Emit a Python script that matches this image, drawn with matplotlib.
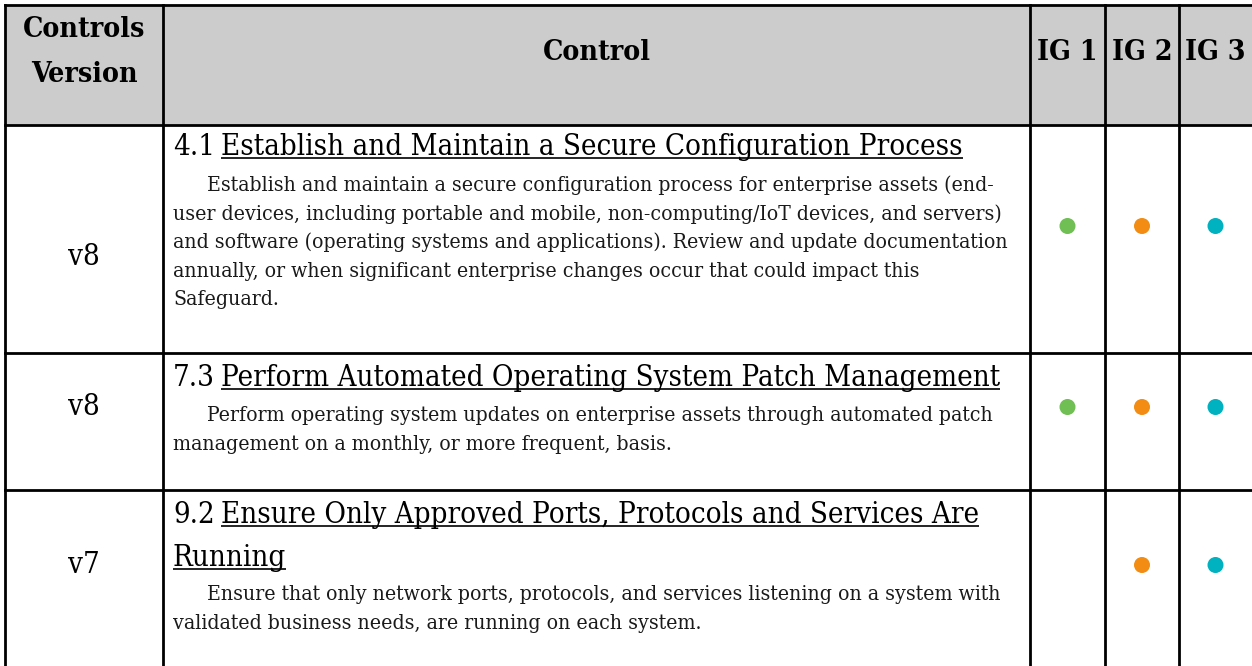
import matplotlib
matplotlib.use('Agg')
import matplotlib.pyplot as plt
from matplotlib.patches import Rectangle, Circle

# table content
versions = ['v8', 'v8', 'v7']
control_ids = ['4.1', '7.3', '9.2']
control_titles = [
    ['Establish and Maintain a Secure Configuration Process'],
    ['Perform Automated Operating System Patch Management'],
    ['Ensure Only Approved Ports, Protocols and Services Are', 'Running'],
]
descriptions = [
    ['Establish and maintain a secure configuration process for enterprise assets (end-',
     'user devices, including portable and mobile, non-computing/IoT devices, and servers)',
     'and software (operating systems and applications). Review and update documentation',
     'annually, or when significant enterprise changes occur that could impact this',
     'Safeguard.'],
    ['Perform operating system updates on enterprise assets through automated patch',
     'management on a monthly, or more frequent, basis.'],
    ['Ensure that only network ports, protocols, and services listening on a system with',
     'validated business needs, are running on each system.'],
]
ig1 = [True, True, False]
ig2 = [True, True, True]
ig3 = [True, True, True]
headers = ['Controls\nVersion', 'Control', 'IG 1', 'IG 2', 'IG 3']

# layout in pixels
W, H = 1252, 666
col_x = [5, 163, 1030, 1105, 1179, 1252]
row_y = [5, 125, 353, 490, 666]
title_y = [155, 386, 523]
title_gap = 43
body_y0 = [191, 421, 600]
line_h = 28.6
dot_y = [226, 407, 565]
ver_y = [257, 407, 565]
ig_colors = ['#70bf54', '#f28c12', '#00b2bf']
SERIF = 'DejaVu Serif'
STRETCH = 'condensed'

fig = plt.figure(figsize=(W / 100, H / 100), dpi=100)
ax = fig.add_axes([0, 0, 1, 1])
ax.set_xlim(0, W)
ax.set_ylim(H, 0)
ax.axis('off')
renderer = fig.canvas.get_renderer()


def put(x, y, s, fs, **kw):
    return ax.text(x, y, s, fontsize=fs, family=SERIF, stretch=STRETCH, **kw)


def fitted_size(s, width, weight='normal'):
    t = put(0, 0, s, 10, weight=weight)
    w = t.get_window_extent(renderer).width
    t.remove()
    return 10 * width / w


head_fs = fitted_size('Controls', 122, 'bold')
title_fs = fitted_size('4.1 Establish and Maintain a Secure Configuration Process', 790)
body_fs = fitted_size(descriptions[0][2], 835)

# header background
ax.add_patch(Rectangle((col_x[0], row_y[0]), W - col_x[0], row_y[1] - row_y[0],
                       facecolor='#cccccc', edgecolor='none', zorder=0))

# header text
put((col_x[0] + col_x[1]) / 2, 37, 'Controls', head_fs, ha='center', va='baseline', weight='bold')
put((col_x[0] + col_x[1]) / 2, 82, 'Version', head_fs, ha='center', va='baseline', weight='bold')
for i, h in enumerate(headers[1:], start=1):
    put((col_x[i] + col_x[i + 1]) / 2, 60, h, head_fs, ha='center', va='baseline', weight='bold')

# rows
for r in range(3):
    put((col_x[0] + col_x[1]) / 2, ver_y[r], versions[r], title_fs, ha='center', va='center')
    put(173, title_y[r], control_ids[r], title_fs, ha='left', va='baseline')
    for k, part in enumerate(control_titles[r]):
        x0 = 221 if k == 0 else 173
        y = title_y[r] + k * title_gap
        t = put(x0, y, part, title_fs, ha='left', va='baseline')
        bb = t.get_window_extent(renderer)
        ax.plot([x0, x0 + bb.width], [y + 3, y + 3], color='black', lw=1.2,
                solid_capstyle='butt')
    for k, line in enumerate(descriptions[r]):
        x0 = 207 if k == 0 else 173
        put(x0, body_y0[r] + k * line_h, line, body_fs, ha='left', va='baseline',
            color='#1a1a1a')
    for c, flags in enumerate([ig1, ig2, ig3]):
        if flags[r]:
            cx = (col_x[2 + c] + col_x[3 + c]) / 2
            ax.add_patch(Circle((cx, dot_y[r]), 8, facecolor=ig_colors[c],
                                edgecolor='none', zorder=3))

# grid lines
for x in col_x[:-1]:
    ax.plot([x, x], [row_y[0], H], color='black', lw=2.0, solid_capstyle='projecting')
for y in row_y[:-1]:
    ax.plot([col_x[0], W], [y, y], color='black', lw=2.0, solid_capstyle='projecting')

fig.savefig('out.png', dpi=100)
